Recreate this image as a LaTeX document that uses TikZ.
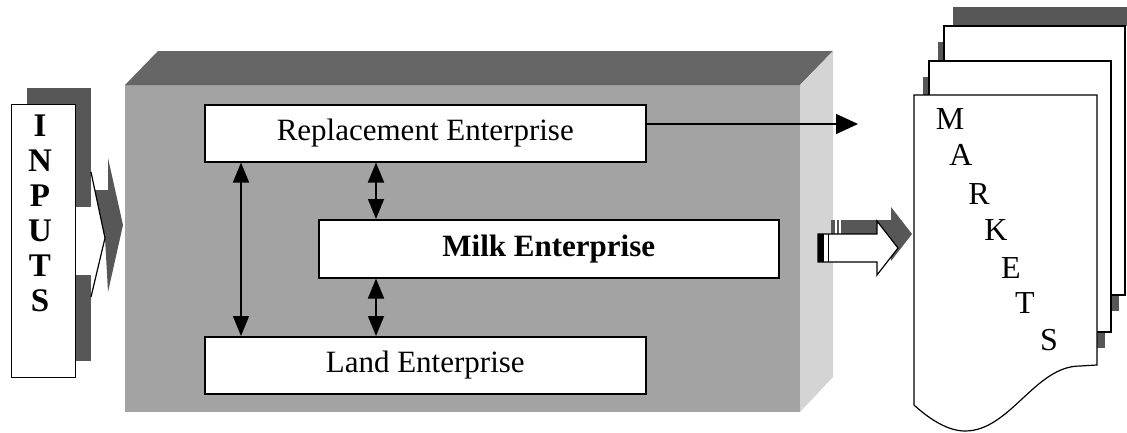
\documentclass[tikz,border=0pt]{standalone}
\usepackage{fontspec}
\setmainfont{Liberation Serif}
\usetikzlibrary{arrows.meta,calc}
\definecolor{frontgray}{gray}{0.64}
\definecolor{topgray}{gray}{0.40}
\definecolor{sidegray}{gray}{0.83}
\definecolor{shadowgray}{gray}{0.34}
\begin{document}
\begin{tikzpicture}[x=1pt,y=-1pt,
  ent/.style={draw=black, line width=1.5pt, fill=white, inner sep=0pt,
    anchor=north west, font=\fontsize{31}{31}\selectfont},
  page/.style={draw=black, line width=1.2pt, fill=white},
  pshadow/.style={fill=shadowgray},
  letter/.style={font=\fontsize{32}{32}\selectfont, inner sep=0pt},
  dbl/.style={line width=1.5pt, {Triangle[length=20pt,width=16pt]}-{Triangle[length=20pt,width=16pt]}},
  outarrow/.style={line width=1.5pt, -{Triangle[length=22pt,width=20pt]}}]
\useasboundingbox (0,0) rectangle (1127,432);

% --- the enterprise block (3-D box) ---
\fill[frontgray] (125,85) rectangle (800,412);
\fill[topgray] (125,85) -- (158,51) -- (833,51) -- (800,85) -- cycle;
\fill[sidegray] (800,85) -- (833,51) -- (833,377) -- (800,412) -- cycle;

\node[ent, minimum width=441pt, minimum height=57pt] (rep) at (204,104) {Replacement Enterprise};
\node[ent, minimum width=460pt, minimum height=58pt, font=\bfseries\fontsize{31}{31}\selectfont] (milk) at (318,219) {Milk Enterprise};
\node[ent, minimum width=441pt, minimum height=57pt] (land) at (204,336) {Land Enterprise};

\coordinate (c1) at (241,250);
\coordinate (c2) at (376,250);
\draw[dbl] (c1 |- rep.south) -- (c1 |- land.north);
\draw[dbl] (c2 |- rep.south) -- (c2 |- milk.north);
\draw[dbl] (c2 |- milk.south) -- (c2 |- land.north);

\coordinate (mk) at (858,124);
\draw[outarrow] (rep.east |- mk) -- (mk);

% --- inputs panel with its shadow and arrow ---
\fill[shadowgray] (27,88) rectangle (91,207);
\fill[shadowgray] (27,275) rectangle (91,361);
\fill[shadowgray] (95,190) -- (108,190) -- (108,158) -- (123,225) -- (108,292) -- (105,238) -- cycle;
\draw[line width=1.2pt] (91,172) -- (105,238) -- (91,297);
\node[draw=black, line width=1.2pt, fill=white, minimum width=64pt, minimum height=273pt,
  anchor=north west, inner sep=0pt] (inp) at (11,104) {};
\node[font=\bfseries\fontsize{33}{35}\selectfont, align=center, inner sep=0pt] (inptxt) at (40,213)
  {I\\N\\P\\U\\T\\S};

% --- hollow arrow towards the markets ---
\fill[shadowgray] (831,220) -- (891,220) -- (891,207) -- (912,234) -- (891,261) -- (891,248) -- (831,248) -- cycle;
\draw[white, line width=1.5pt] (836,220) -- (836,234) (840,220) -- (840,234);
\draw[black, line width=1.2pt, fill=white] (818,234) -- (877,234) -- (877,221) -- (898,248)
  -- (877,275) -- (877,262) -- (818,262) -- cycle;
\fill[black] (818,234) rectangle (824,262);
\draw[line width=1.2pt] (828.5,234) -- (828.5,262);

% --- stack of market pages ---
\fill[pshadow] (953,7) rectangle (1127,26);
\fill[pshadow] (938,42) rectangle (1119,311);
\draw[page] (944,26) rectangle (1125,295);
\fill[pshadow] (923,77) rectangle (1105,348);
\draw[page] (929,61) rectangle (1111,332);
\draw[page] (914,95) -- (1097,95) -- (1097,365) -- (1080,366)
  .. controls (1035,366) and (1010,431) .. (965,431)
  .. controls (945,431) and (925,415) .. (914,405) -- cycle;

\node[letter] (m1) at (950,119) {M};
\node[letter] (m2) at (961,155) {A};
\node[letter] (m3) at (979,194) {R};
\node[letter] (m4) at (996,230) {K};
\node[letter] (m5) at (1011,268) {E};
\node[letter] (m6) at (1025,303) {T};
\node[letter] (m7) at (1049,340) {S};
\end{tikzpicture}
\end{document}
